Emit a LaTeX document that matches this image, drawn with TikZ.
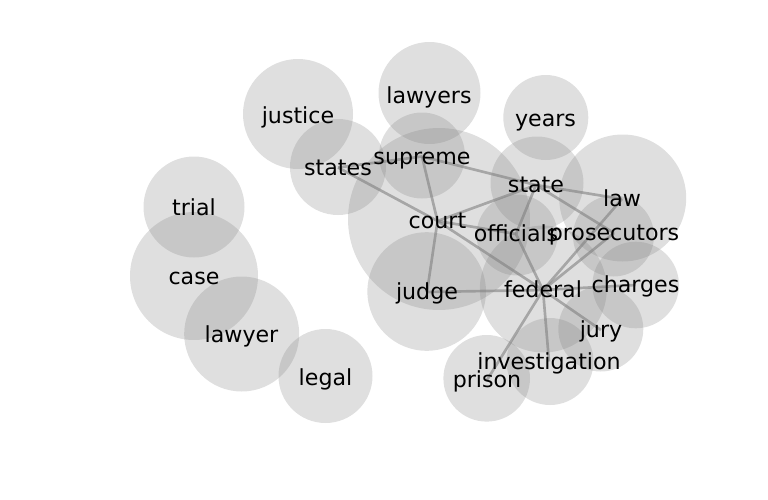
\documentclass[tikz,border=0pt]{standalone}
\usepackage{fontspec}
\setmainfont{DejaVu Sans}
\pgfdeclarelayer{bg}
\pgfdeclarelayer{edges}
\pgfsetlayers{bg,edges,main}
\begin{document}
\begin{tikzpicture}[x=0.75pt,y=-0.75pt,
  lbl/.style={inner sep=0pt,outer sep=0pt,text height=14pt,text depth=2.2pt,
    font=\fontsize{16.6pt}{19pt}\selectfont,text=black},
  bubble/.style={fill=gray,fill opacity=0.25,draw=none},
  link/.style={draw=gray,draw opacity=0.6,line width=2pt}]
\useasboundingbox (0,0) rectangle (768,500);
% labels (nodes)
\node[lbl] (lawyers) at (429,95.5) {lawyers};
\node[lbl] (justice) at (298,115.5) {justice};
\node[lbl] (years) at (545.5,119) {years};
\node[lbl] (states) at (338,167.5) {states};
\node[lbl] (supreme) at (422,156.5) {supreme};
\node[lbl] (court) at (437.5,221) {court};
\node[lbl] (state) at (536,185) {state};
\node[lbl] (law) at (622,199) {law};
\node[lbl] (officials) at (516,234) {officials};
\node[lbl] (prosecutors) at (614,233) {prosecutors};
\node[lbl] (trial) at (194,208) {trial};
\node[lbl] (case) at (194,277) {case};
\node[lbl] (judge) at (427,292) {judge};
\node[lbl] (federal) at (543,290) {federal};
\node[lbl] (charges) at (635.5,285) {charges};
\node[lbl] (jury) at (601,330) {jury};
\node[lbl] (lawyer) at (241.5,335) {lawyer};
\node[lbl] (legal) at (325.5,377.5) {legal};
\node[lbl] (investigation) at (549,361.5) {investigation};
\node[lbl] (prison) at (487,380) {prison};
% bubbles
\begin{pgfonlayer}{bg}
\fill[bubble] (429.5,93) circle[radius=51];
\fill[bubble] (298,114) circle[radius=55];
\fill[bubble] (545.8,117.5) circle[radius=42.5];
\fill[bubble] (338,167) circle[radius=48];
\fill[bubble] (422,155.5) circle[radius=43];
\fill[bubble] (439,219) circle[radius=91];
\fill[bubble] (537,183) circle[radius=46.5];
\fill[bubble] (622.7,198) circle[radius=63.5];
\fill[bubble] (517,235) circle[radius=40.5];
\fill[bubble] (613.5,236) circle[radius=40.5];
\fill[bubble] (194,207) circle[radius=50.5];
\fill[bubble] (194,276) circle[radius=64];
\fill[bubble] (426.7,291.5) circle[radius=59.3];
\fill[bubble] (543.3,289) circle[radius=63.5];
\fill[bubble] (635.7,285) circle[radius=43.3];
\fill[bubble] (600.8,329) circle[radius=42.5];
\fill[bubble] (241.7,334) circle[radius=57.5];
\fill[bubble] (325.5,376) circle[radius=47];
\fill[bubble] (550,361.5) circle[radius=43.5];
\fill[bubble] (486.7,378.3) circle[radius=43.3];
\end{pgfonlayer}
% connectors
\begin{pgfonlayer}{edges}
\draw[link] (states.center) -- (court.center);
\draw[link] (states.center) -- (supreme.center);
\draw[link] (supreme.center) -- (court.center);
\draw[link] (supreme.center) -- (state.center);
\draw[link] (court.center) -- (state.center);
\draw[link] (court.center) -- (officials.center);
\draw[link] (court.center) -- (federal.center);
\draw[link] (court.center) -- (judge.center);
\draw[link] (state.center) -- (officials.center);
\draw[link] (state.center) -- (law.center);
\draw[link] (state.center) -- (prosecutors.center);
\draw[link] (officials.center) -- (federal.center);
\draw[link] (law.center) -- (federal.center);
\draw[link] (prosecutors.center) -- (federal.center);
\draw[link] (judge.center) -- (federal.center);
\draw[link] (federal.center) -- (charges.center);
\draw[link] (federal.center) -- (jury.center);
\draw[link] (federal.center) -- (investigation.center);
\draw[link] (federal.center) -- (prison.center);
\end{pgfonlayer}
\end{tikzpicture}
\end{document}
